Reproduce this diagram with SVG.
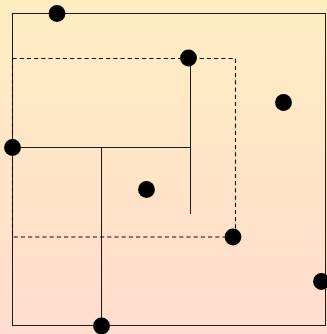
<svg xmlns="http://www.w3.org/2000/svg" width="327" height="334" viewBox="0 0 327 334">
  <defs>
    <linearGradient id="bg" x1="0" y1="0" x2="0" y2="1">
      <stop offset="0" stop-color="#ffedc0"/>
      <stop offset="1" stop-color="#ffdccf"/>
    </linearGradient>
  </defs>
  <style>
    .ln { stroke: #1a1a1a; stroke-width: 1; fill: none; }
    .dash { stroke: #111; stroke-width: 1.1; fill: none; stroke-dasharray: 4.2 3; }
    .dot { fill: #000; }
  </style>
  <rect x="0" y="0" width="327" height="334" fill="url(#bg)"/>
  <g id="connectors">
    <rect class="ln" x="12.5" y="13.5" width="313" height="312"/>
    <rect class="dash" x="12.5" y="58.5" width="223" height="178.5"/>
    <line class="ln" x1="12.5" y1="147.5" x2="190.5" y2="147.5"/>
    <line class="ln" x1="190.5" y1="58" x2="190.5" y2="214"/>
    <line class="ln" x1="101.5" y1="147.5" x2="101.5" y2="326"/>
  </g>
  <g id="n1"><circle class="dot" cx="57" cy="13.5" r="8.4"/></g>
  <g id="n2"><circle class="dot" cx="188.5" cy="58" r="8.4"/></g>
  <g id="n3"><circle class="dot" cx="283.5" cy="102.5" r="8.4"/></g>
  <g id="n4"><circle class="dot" cx="12.5" cy="147.5" r="8.4"/></g>
  <g id="n5"><circle class="dot" cx="146.5" cy="189.5" r="8.4"/></g>
  <g id="n6"><circle class="dot" cx="233" cy="237" r="8.4"/></g>
  <g id="n7"><circle class="dot" cx="321.5" cy="281.5" r="8.4"/></g>
  <g id="n8"><circle class="dot" cx="101.5" cy="326" r="8.4"/></g>
</svg>
